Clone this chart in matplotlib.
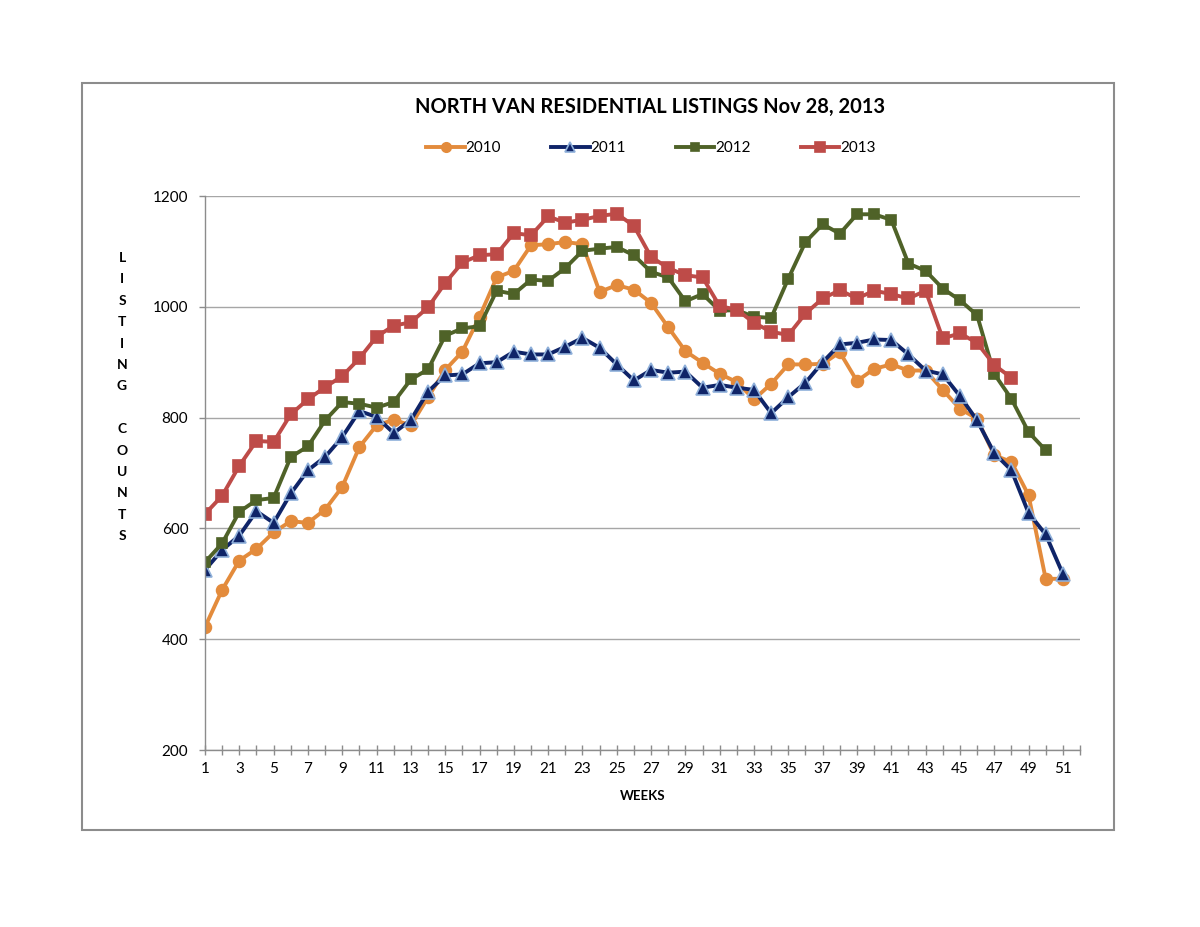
import matplotlib.pyplot as plt
from matplotlib.patches import Rectangle

plt.rcParams['font.family'] = ['Lato', 'DejaVu Sans']

# weekly listing counts
y2010 = [422, 489, 542, 563, 593, 613, 610, 634, 675, 747, 786, 796, 786, 837, 886, 919, 982, 1053,
         1065, 1111, 1113, 1117, 1113, 1027, 1039, 1031, 1007, 963, 920, 899, 879, 864, 833, 861, 896,
         896, 897, 918, 866, 888, 896, 885, 885, 850, 816, 798, 732, 720, 660, 509, 509]
y2011 = [525, 561, 587, 631, 610, 663, 705, 729, 765, 812, 801, 772, 796, 847, 876, 878, 898, 900,
         919, 914, 914, 928, 944, 926, 896, 867, 886, 881, 883, 854, 859, 854, 850, 808, 837,
         863, 900, 932, 935, 941, 940, 914, 885, 878, 839, 795, 736, 705, 628, 589, 518]
y2012 = [539, 573, 630, 651, 655, 729, 748, 795, 828, 825, 818, 828, 869, 887, 948, 961, 965, 1029,
         1023, 1049, 1047, 1070, 1101, 1105, 1108, 1093, 1063, 1053, 1010, 1023, 993, 994, 982, 980, 1051,
         1117, 1149, 1132, 1167, 1167, 1157, 1078, 1065, 1033, 1012, 985, 879, 834, 774, 741]
y2013 = [626, 659, 713, 758, 756, 806, 833, 855, 875, 907, 946, 966, 972, 999, 1043, 1080, 1093, 1095,
         1133, 1129, 1163, 1152, 1157, 1164, 1168, 1146, 1090, 1070, 1057, 1053, 1001, 995, 971, 955, 949,
         988, 1015, 1030, 1015, 1029, 1023, 1015, 1029, 943, 952, 935, 895, 872]

series = [
    ('2010', y2010, '#E38B3C', 'o', 8.5, '#E38B3C'),
    ('2011', y2011, '#0F2468', '^', 9.5, '#8FB0DA'),
    ('2012', y2012, '#4F6228', 's', 6.5, '#4F6228'),
    ('2013', y2013, '#BE4B48', 's', 8.5, '#BE4B48'),
]

fig = plt.figure(figsize=(12, 9.27), dpi=100)
fig.patches.append(Rectangle((82 / 1200, 1 - 830 / 927), 1032 / 1200, 747 / 927,
                             transform=fig.transFigure, fill=False, edgecolor='#8C8C8C', lw=1.5))

ax = fig.add_axes([205 / 1200, 1 - 750 / 927, 875 / 1200, 554 / 927])

for name, vals, col, mk, ms, edge in series:
    weeks = list(range(1, len(vals) + 1))
    ax.plot(weeks, vals, color=col, lw=2.8, marker=mk, markersize=ms,
            markerfacecolor=col, markeredgecolor=edge, markeredgewidth=1.2, label=name)

ax.set_xlim(1, 52)
ax.set_ylim(200, 1200)
ax.set_xticks(range(1, 53, 2))
ax.set_xticklabels([str(w) if w <= 51 else '' for w in range(1, 53, 2)])
ax.set_xticks(range(1, 53), minor=True)
ax.set_yticks(range(200, 1201, 200))
ax.tick_params(axis='x', which='both', direction='inout', length=7, width=1, color='#8C8C8C',
               labelsize=11, pad=5)
ax.tick_params(axis='y', direction='out', length=4, width=1, color='#8C8C8C', labelsize=11, pad=8)
ax.grid(axis='y', color='#A6A6A6', lw=1)
ax.set_axisbelow(True)
for s in ['top', 'right']:
    ax.spines[s].set_visible(False)
for s in ['left', 'bottom']:
    ax.spines[s].set_color('#8C8C8C')
    ax.spines[s].set_linewidth(1)

ax.set_xlabel('WEEKS', fontsize=9.5, fontweight='bold', labelpad=10)

fig.text(650 / 1200, 1 - 107 / 927, 'NORTH VAN RESIDENTIAL LISTINGS Nov 28, 2013',
         ha='center', va='center', fontsize=14.5, fontweight='bold')

fig.legend(loc='center', bbox_to_anchor=(651 / 1200, 1 - 148 / 927), ncol=4, frameon=False,
           fontsize=11, handlelength=2.5, columnspacing=3.3, handletextpad=0.05, markerscale=0.8)

label = 'LISTING COUNTS'
for i, ch in enumerate(label):
    fig.text(122 / 1200, 1 - (258 + i * 21.4) / 927, ch, ha='center', va='center',
             fontsize=10, fontweight='bold')

fig.savefig('out.png', dpi=100)
